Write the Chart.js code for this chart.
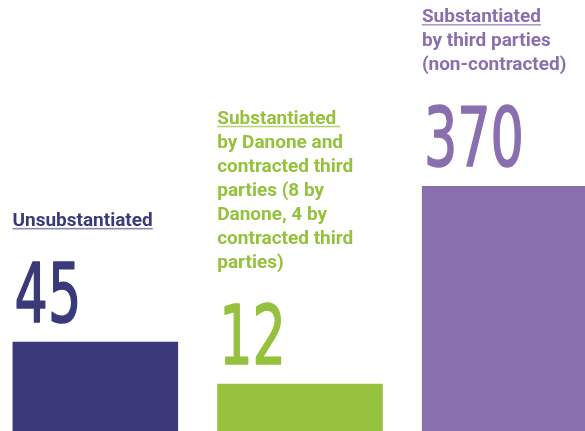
<!DOCTYPE html>
<html>
<head>
<meta charset="utf-8">
<script src="https://cdn.jsdelivr.net/npm/chart.js@4.4.1/dist/chart.umd.min.js"></script>
<style>
  html, body { margin: 0; padding: 0; background: #ffffff; overflow: hidden; width: 585px; height: 431px; }
  #wrap { position: absolute; left: -7px; top: 0; width: 614px; height: 431px; }
</style>
</head>
<body>
<div id="wrap"><canvas id="c" width="614" height="431"></canvas></div>
<script>
// ---- data ----
const categories = [
  'Unsubstantiated',
  'Substantiated by Danone and contracted third parties',
  'Substantiated by third parties (non-contracted)'
];
const values = [45, 12, 370];
const valueLabels = ['45', '12', '370'];
const labelLines = [
  ['Unsubstantiated'],
  ['Substantiated', 'by Danone and', 'contracted third', 'parties (8 by', 'Danone, 4 by', 'contracted third', 'parties)'],
  ['Substantiated', 'by third parties', '(non-contracted)']
];
const colors = ['#3a3a7a', '#95c13d', '#8a6fae'];
const underlineColors = ['rgba(58,58,122,0.6)', 'rgba(149,193,61,0.7)', 'rgba(138,111,174,0.7)'];

// ---- power (compressed) value scale ----
const EXP = 0.48;
class PowerScale extends Chart.LinearScale {
  getPixelForValue(value) {
    if (value === null || value === undefined || isNaN(value)) return NaN;
    const lo = Math.pow(Math.max(this.min, 0), EXP);
    const hi = Math.pow(this.max, EXP);
    const t = (Math.pow(Math.max(value, 0), EXP) - lo) / (hi - lo);
    return this.getPixelForDecimal(t);
  }
  getValueForPixel(pixel) {
    const d = this.getDecimalForPixel(pixel);
    const lo = Math.pow(Math.max(this.min, 0), EXP);
    const hi = Math.pow(this.max, EXP);
    return Math.pow(lo + d * (hi - lo), 1 / EXP);
  }
}
PowerScale.id = 'power';
PowerScale.defaults = Chart.LinearScale.defaults;
Chart.register(PowerScale);

const labelPlugin = {
  id: 'labelPlugin',
  afterDatasetsDraw(chart) {
    const ctx = chart.ctx;
    const meta = chart.getDatasetMeta(0);
    const labelFont = 'bold 18px Roboto, "Open Sans", sans-serif';
    ctx.save();
    ctx.font = labelFont;
    const lsx = 136 / ctx.measureText('contracted third').width;
    const numFont = '82px "Liberation Sans Narrow", "DejaVu Sans Condensed", "Liberation Sans", sans-serif';
    ctx.font = numFont;
    const nsx = 100 / ctx.measureText('370').width;
    ctx.restore();

    meta.data.forEach((el, i) => {
      const left = el.x - el.width / 2;
      const top = el.y;
      // big number
      ctx.save();
      ctx.fillStyle = colors[i];
      ctx.strokeStyle = colors[i];
      ctx.lineJoin = 'round';
      ctx.lineCap = 'round';
      ctx.font = numFont;
      ctx.textBaseline = 'alphabetic';
      ctx.translate(left + 2, top - 20);
      ctx.scale(nsx, 1);
      ctx.lineWidth = 1.6;
      ctx.fillText(valueLabels[i], 0, 0);
      ctx.strokeText(valueLabels[i], 0, 0);
      ctx.restore();

      // description lines
      const lines = labelLines[i];
      const lastBase = top - 116;
      const lh = 24;
      lines.forEach((t, j) => {
        const base = lastBase - (lines.length - 1 - j) * lh;
        ctx.save();
        ctx.font = labelFont;
        ctx.fillStyle = colors[i];
        ctx.translate(left, base);
        ctx.scale(lsx, 1);
        ctx.fillText(t, 0, 0);
        if (j === 0) {
          const w = ctx.measureText(t).width;
          ctx.fillStyle = underlineColors[i];
          ctx.fillRect(0, 2, w + (i === 1 ? 4 : 0), 1.6);
        }
        ctx.restore();
      });
    });
  }
};

new Chart(document.getElementById('c'), {
  type: 'bar',
  data: {
    labels: categories,
    datasets: [{
      data: values,
      backgroundColor: colors,
      borderWidth: 0,
      categoryPercentage: 1,
      barPercentage: 0.809
    }]
  },
  options: {
    responsive: false,
    animation: false,
    layout: { padding: 0 },
    plugins: { legend: { display: false }, tooltip: { enabled: false } },
    scales: {
      x: { display: false, grid: { display: false } },
      y: { type: 'power', display: false, min: 0, max: 1200, grid: { display: false } }
    }
  },
  plugins: [labelPlugin]
});
</script>
</body>
</html>
